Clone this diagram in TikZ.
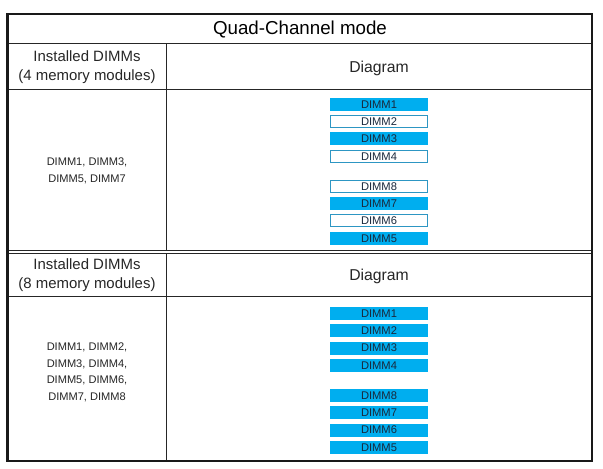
\documentclass[tikz,border=0pt]{standalone}
\usepackage{fontspec}
\setmainfont{Liberation Sans}
\definecolor{dimmblue}{RGB}{0,174,239}
\definecolor{dimmedge}{RGB}{45,150,195}
\definecolor{dimmtext}{RGB}{25,40,60}

\begin{document}
\begin{tikzpicture}[x=1bp, y=-1bp,
	every node/.style={inner sep=0pt},
	rule/.style={line width=1bp, draw=black!85},
	frame/.style={line width=2.4bp, draw=black!90},
	dimm/.style={line width=1bp, text=dimmtext, minimum width=97bp, minimum height=12bp, font=\fontsize{11.2}{12}\selectfont},
	headtext/.style={align=center, text=black!85, font=\fontsize{15}{19}\selectfont},
	listtext/.style={align=center, text=black!85, font=\fontsize{11.1}{16.5}\selectfont}]
		\fill[white] (0, 0) rectangle (603, 469);
		\useasboundingbox (0, 0) rectangle (603, 469);

		% table rules
		\draw[rule] (7.5, 43.5) -- (592, 43.5) (7.5, 90) -- (592, 90) (7.5, 296.5) -- (592, 296.5);
		\draw[rule, line width=1.3bp] (7.5, 250.5) -- (592, 250.5) (7.5, 253.5) -- (592, 253.5);
		\draw[rule] (166, 43.5) -- (166, 250.5) (166, 253.5) -- (166, 461);
		\draw[frame] (7.5, 14) rectangle (592, 461);

		\node[text=black, font=\fontsize{18.8}{22}\selectfont] (title) at (300, 29) {Quad-Channel mode};

		\node[headtext] (headfour) at (87, 67) {Installed DIMMs\\(4 memory modules)};
		\node[headtext, font=\fontsize{15.8}{19}\selectfont] (diagfour) at (379, 68) {Diagram};
		\node[listtext] (listfour) at (87, 171) {DIMM1, DIMM3,\\DIMM5, DIMM7};

		\node[headtext] (headeight) at (87, 275.5) {Installed DIMMs\\(8 memory modules)};
		\node[headtext, font=\fontsize{15.8}{19}\selectfont] (diageight) at (379, 276) {Diagram};
		\node[listtext] (listeight) at (87, 372.5) {DIMM1, DIMM2,\\DIMM3, DIMM4,\\DIMM5, DIMM6,\\DIMM7, DIMM8};

		% 4 modules: slots 1,3,5,7 populated
		\foreach \n/\k/\bg/\ln in {1/0/dimmblue/dimmblue, 2/1/white/dimmedge, 3/2/dimmblue/dimmblue, 4/3/white/dimmedge,
			8/4/white/dimmedge, 7/5/dimmblue/dimmblue, 6/6/white/dimmedge, 5/7/dimmblue/dimmblue} {
			\node[dimm, fill=\bg, draw=\ln] (fourD\n) at (379, {104.5+17.25*\k+13*(\k>3)}) {DIMM\n};
		}
		% 8 modules: all populated
		\foreach \n/\k in {1/0, 2/1, 3/2, 4/3, 8/4, 7/5, 6/6, 5/7} {
			\node[dimm, fill=dimmblue, draw=dimmblue] (eightD\n) at (379, {313.5+17.25*\k+13*(\k>3)}) {DIMM\n};
		}
	\end{tikzpicture}
\end{document}
